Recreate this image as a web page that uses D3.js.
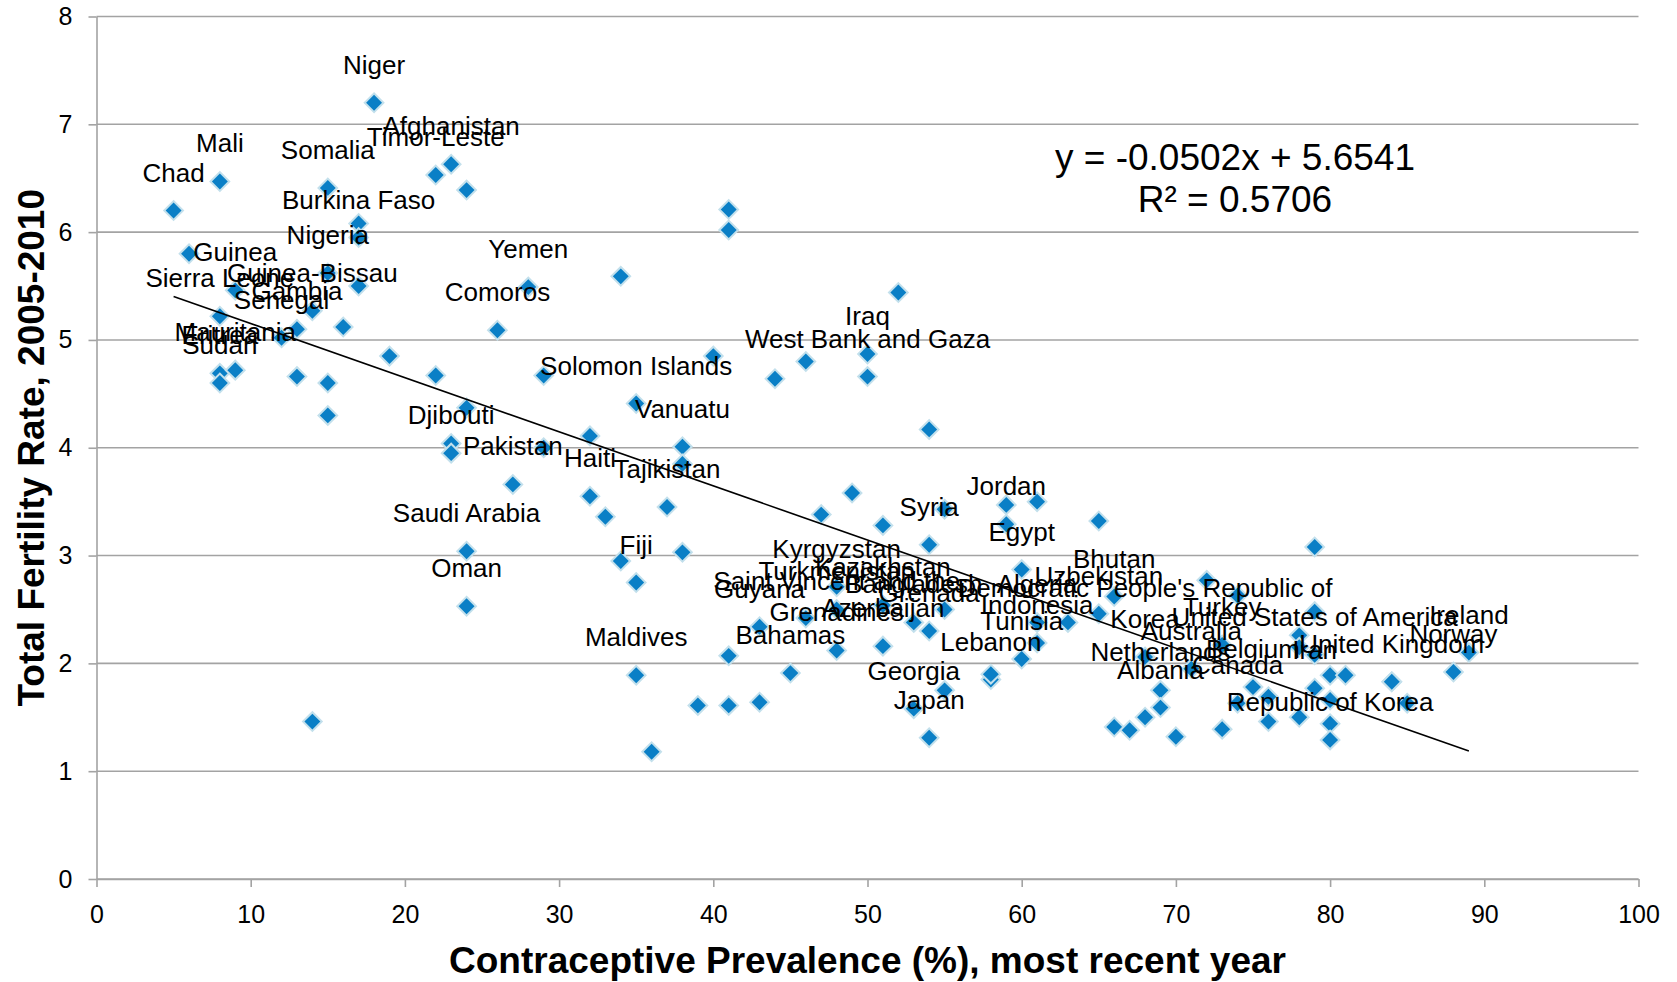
<!DOCTYPE html>
<html>
<head>
<meta charset="utf-8">
<script src="https://cdn.jsdelivr.net/npm/d3@7"></script>
<style>
  body { margin: 0; background: #fff; }
  text { font-family: "Liberation Sans", Arial, sans-serif; }
</style>
</head>
<body>
<svg id="chart" width="1677" height="982"></svg>
<script>
// country labels ("" = point drawn without a label)
const countries = [
  "Chad", "", "Mali", "Sierra Leone", "Eritrea", "Sudan", "Guinea", "Mauritania",
  "Senegal", "Gambia", "", "Guinea-Bissau", "", "Somalia", "Nigeria", "", "", "",
  "", "Burkina Faso", "", "Niger", "", "Timor-Leste", "", "Afghanistan", "", "Djibouti",
  "", "", "Saudi Arabia", "Oman", "Comoros", "Pakistan", "Yemen", "", "", "",
  "Haiti", "", "", "", "Solomon Islands", "Fiji", "Maldives", "", "Tajikistan", "Vanuatu",
  "", "", "", "", "", "", "", "", "Guyana", "",
  "", "Bahamas", "", "", "", "Kyrgyzstan", "Turkmenistan", "Saint Vincent and the\nGrenadines",
  "", "Iraq", "West Bank and Gaza", "", "Kazakhstan", "Azerbaijan", "", "Bangladesh",
  "Georgia", "", "Syria", "Grenada", "Japan", "", "", "",
  "Lebanon", "", "", "Jordan", "Egypt", "Tunisia", "", "Algeria",
  "Indonesia", "", "", "Uzbekistan", "Bhutan", "", "", "",
  "Democratic People's Republic of\nKorea", "Netherlands", "Albania", "", "Australia", "", "Turkey", "",
  "Canada", "", "Belgium", "", "", "", "", "", "", "Iran",
  "United States of America", "", "", "", "", "", "Republic of Korea", "",
  "United Kingdom", "", "Norway", "Ireland"
];
// contraceptive prevalence (%)
const prevalence = [
  5, 6, 8, 8, 8, 8, 9, 9,
  12, 13, 13, 14, 14, 15, 15, 15, 15, 16,
  17, 17, 17, 18, 19, 22, 22, 23, 23, 23,
  24, 24, 24, 24, 26, 27, 28, 29, 29, 32,
  32, 33, 34, 34, 35, 35, 35, 36, 37, 38,
  38, 38, 39, 40, 41, 41, 41, 41, 43, 43,
  44, 45, 46, 46, 47, 48, 48, 48,
  49, 50, 50, 51, 51, 51, 52, 53,
  53, 54, 54, 54, 54, 55, 55, 55,
  58, 58, 59, 59, 60, 60, 61, 61,
  61, 63, 65, 65, 66, 66, 67, 68,
  68, 69, 69, 70, 71, 72, 73, 73,
  74, 74, 75, 76, 76, 78, 78, 78, 79, 79,
  79, 79, 80, 80, 80, 81, 80, 84,
  84, 85, 88, 89
];
// total fertility rate, 2005-2010
const fertility = [
  6.20, 5.80, 6.47, 5.22, 4.69, 4.60, 5.46, 4.72,
  5.02, 5.10, 4.66, 5.27, 1.46, 6.41, 5.62, 4.60, 4.30, 5.12,
  6.08, 5.95, 5.50, 7.20, 4.85, 6.53, 4.67, 6.63, 4.04, 3.95,
  6.39, 4.37, 3.04, 2.53, 5.09, 3.66, 5.49, 4.67, 4.00, 4.11,
  3.55, 3.36, 5.59, 2.95, 4.41, 2.75, 1.89, 1.18, 3.45, 4.01,
  3.85, 3.03, 1.61, 4.85, 6.21, 6.02, 2.07, 1.61, 2.34, 1.64,
  4.64, 1.91, 4.80, 2.42, 3.38, 2.71, 2.50, 2.12,
  3.58, 4.87, 4.66, 3.28, 2.54, 2.16, 5.44, 2.38,
  1.58, 4.17, 3.10, 2.30, 1.31, 3.43, 2.50, 1.75,
  1.85, 1.90, 3.47, 3.29, 2.87, 2.04, 3.50, 2.38,
  2.19, 2.38, 3.32, 2.46, 2.62, 1.41, 1.38, 1.50,
  2.06, 1.75, 1.59, 1.32, 1.95, 2.77, 2.17, 1.39,
  1.63, 2.63, 1.78, 1.46, 1.69, 2.26, 2.15, 1.50, 3.08, 1.77,
  2.08, 2.48, 1.89, 1.66, 1.44, 1.89, 1.29, 1.83,
  1.83, 1.63, 1.92, 2.10
];

const x_ticks = [0, 10, 20, 30, 40, 50, 60, 70, 80, 90, 100];
const y_ticks = [0, 1, 2, 3, 4, 5, 6, 7, 8];
const trend_slope = -0.0502;
const trend_intercept = 5.6541;
const trend_r2 = 0.5706;
const trend_span = [5, 89];

const margin = {top: 16.5, right: 38.5, bottom: 103, left: 96.5};
const width = 1677 - margin.left - margin.right;
const height = 982 - margin.top - margin.bottom;
const grid_color = "#a3a3a3";

const points = countries.map((c, i) => ({name: c, cpr: prevalence[i], tfr: fertility[i]}));

const x = d3.scaleLinear().domain([0, 100]).range([0, width]);
const y = d3.scaleLinear().domain([0, 8]).range([height, 0]);

const svg = d3.select("#chart")
  .append("g")
  .attr("transform", "translate(" + margin.left + "," + margin.top + ")");

// horizontal gridlines
svg.selectAll(".grid")
  .data(y_ticks)
  .enter().append("line")
  .attr("class", "grid")
  .attr("x1", 0).attr("x2", width)
  .attr("y1", d => y(d)).attr("y2", d => y(d))
  .attr("stroke", grid_color)
  .attr("stroke-width", 1.6);

// axes
const yAxis = svg.append("g")
  .call(d3.axisLeft(y).tickValues(y_ticks).tickSize(8).tickSizeOuter(0).tickPadding(16).tickFormat(d3.format("d")));
const xAxis = svg.append("g")
  .attr("transform", "translate(0," + height + ")")
  .call(d3.axisBottom(x).tickValues(x_ticks).tickSize(8).tickSizeOuter(0).tickPadding(18).tickFormat(d3.format("d")));

[xAxis, yAxis].forEach(a => {
  a.select(".domain").attr("stroke", grid_color).attr("stroke-width", 1.6);
  a.selectAll(".tick line").attr("stroke", grid_color).attr("stroke-width", 1.6);
  a.selectAll(".tick text")
    .attr("fill", "#000")
    .attr("font-size", 25)
    .attr("font-family", "Liberation Sans, Arial, sans-serif");
});

// axis titles
svg.append("text")
  .attr("x", width / 2)
  .attr("y", height + 94)
  .attr("text-anchor", "middle")
  .attr("font-size", 37)
  .attr("font-weight", "bold")
  .text("Contraceptive Prevalence (%), most recent year");

svg.append("text")
  .attr("transform", "translate(" + (-53) + "," + (height / 2) + ") rotate(-90)")
  .attr("text-anchor", "middle")
  .attr("font-size", 37)
  .attr("font-weight", "bold")
  .text("Total Fertility Rate, 2005-2010");

// markers
svg.selectAll(".pt")
  .data(points)
  .enter().append("path")
  .attr("class", "pt")
  .attr("d", d3.symbol(d3.symbolSquare, 175))
  .attr("transform", d => "translate(" + x(d.cpr) + "," + y(d.tfr) + ") rotate(45)")
  .attr("fill", "#0a7fc6")
  .attr("stroke", "#c3e0ec")
  .attr("stroke-width", 2);

// linear trendline
svg.append("line")
  .attr("x1", x(trend_span[0]))
  .attr("y1", y(trend_slope * trend_span[0] + trend_intercept))
  .attr("x2", x(trend_span[1]))
  .attr("y2", y(trend_slope * trend_span[1] + trend_intercept))
  .attr("stroke", "#000")
  .attr("stroke-width", 1.6);

// data labels, above each point
const labels = svg.selectAll(".lbl")
  .data(points.filter(d => d.name !== ""))
  .enter().append("text")
  .attr("class", "lbl")
  .attr("text-anchor", "middle")
  .attr("font-size", 26)
  .attr("fill", "#000");

labels.each(function(d) {
  const lines = d.name.split("\n");
  const t = d3.select(this);
  lines.forEach((ln, i) => {
    t.append("tspan")
      .attr("x", x(d.cpr))
      .attr("y", y(d.tfr) - 29 - (lines.length - 1 - i) * 31)
      .text(ln);
  });
});

// trendline equation
const eq = svg.append("text")
  .attr("text-anchor", "middle")
  .attr("font-size", 37)
  .attr("fill", "#000");
eq.append("tspan")
  .attr("x", 1235 - margin.left).attr("y", 170 - margin.top)
  .text("y = " + trend_slope.toFixed(4) + "x + " + trend_intercept.toFixed(4));
eq.append("tspan")
  .attr("x", 1235 - margin.left).attr("y", 212 - margin.top)
  .text("R² = " + trend_r2.toFixed(4));
</script>
</body>
</html>
